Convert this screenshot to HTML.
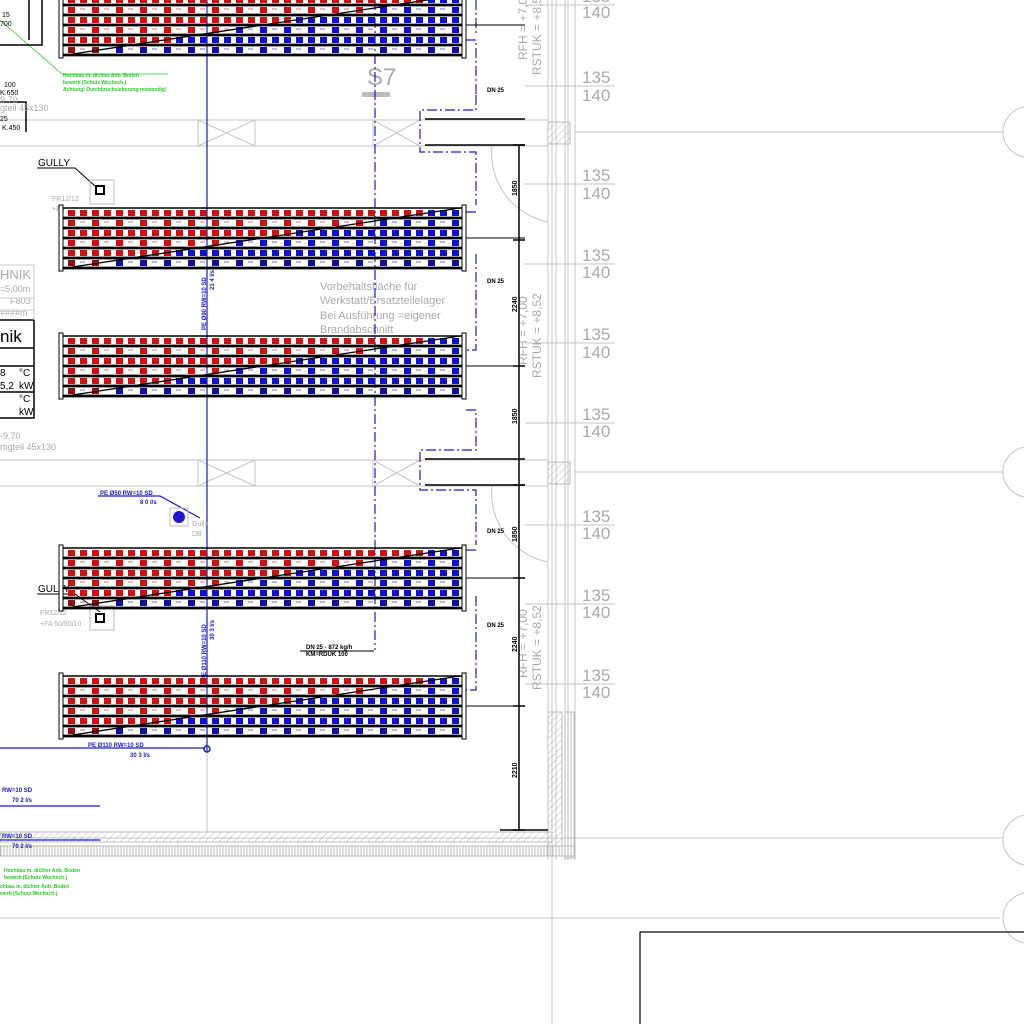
<!DOCTYPE html>
<html><head><meta charset="utf-8"><style>
html,body{margin:0;padding:0;background:#fff;}
svg{display:block;}
text{font-family:"Liberation Sans",sans-serif;}
</style></head><body>
<svg id="s" width="1024" height="1024" viewBox="0 0 1024 1024" xmlns="http://www.w3.org/2000/svg">
<defs>
<pattern id="h" width="5" height="5" patternUnits="userSpaceOnUse" patternTransform="rotate(45)">
<line x1="0" y1="0" x2="0" y2="5" stroke="#bbb" stroke-width="1"/></pattern>
<pattern id="v" width="3" height="6" patternUnits="userSpaceOnUse">
<line x1="1" y1="0" x2="1" y2="6" stroke="#bbb" stroke-width="1"/></pattern>
</defs>
<g stroke="#c4c4c4" stroke-width="1" fill="none">
<line x1="0" y1="120" x2="548" y2="120"/><line x1="0" y1="146" x2="548" y2="146"/>
<line x1="575" y1="132" x2="1003" y2="132"/>
<line x1="0" y1="460" x2="548" y2="460"/><line x1="0" y1="486" x2="548" y2="486"/>
<line x1="575" y1="472" x2="1003" y2="472"/>
<line x1="0" y1="838" x2="1003" y2="838"/>
<line x1="0" y1="918" x2="1000" y2="918"/>
<line x1="552" y1="0" x2="552" y2="1024"/>
<line x1="548" y1="0" x2="548" y2="860"/><line x1="556" y1="0" x2="556" y2="860"/>
<line x1="565" y1="0" x2="565" y2="860"/><line x1="568" y1="0" x2="568" y2="860"/>
<line x1="575" y1="0" x2="575" y2="860"/>
<line x1="207" y1="750" x2="207" y2="832"/>
<circle cx="1028" cy="132" r="25"/><circle cx="1028" cy="472" r="25"/>
<circle cx="1028" cy="840" r="25"/><circle cx="1028" cy="918" r="25"/>
<path d="M198 120L255 146M198 146L255 120M198 120V146M255 120V146"/>
<path d="M373 120L420 146M373 146L420 120M373 120V146"/>
<path d="M198 460L255 486M198 486L255 460M198 460V486M255 460V486"/>
<path d="M373 460L420 486M373 486L420 460M373 460V486"/>
<path d="M492 146 A70 70 0 0 0 548 222"/>
<path d="M492 486 A70 70 0 0 0 548 562"/>
</g>
<rect x="548" y="122" width="22" height="22" fill="url(#h)" stroke="#bbb"/>
<rect x="548" y="462" width="22" height="22" fill="url(#h)" stroke="#bbb"/>
<rect x="0" y="832" width="552" height="10" fill="url(#h)" stroke="#bbb"/>
<rect x="0" y="846" width="575" height="10" fill="url(#v)" stroke="#bbb"/>
<rect x="548" y="712" width="14" height="134" fill="url(#h)" stroke="#bbb"/>
<rect x="565" y="712" width="10" height="146" fill="url(#v)" stroke="#bbb"/>
<g id="lab" fill="#aaa" font-size="17"></g>
<g fill="#aaa" font-size="12">
<text transform="translate(541,75) rotate(-90)">RSTUK = +8,52</text>
<text transform="translate(527,60) rotate(-90)">RFH = +7,00</text>
<text transform="translate(541,378) rotate(-90)">RSTUK = +8,52</text>
<text transform="translate(527,365) rotate(-90)">RFH = +7,00</text>
<text transform="translate(541,690) rotate(-90)">RSTUK = +8,52</text>
<text transform="translate(527,678) rotate(-90)">RFH = +7,00</text>
<text x="320" y="290" font-size="11">Vorbehaltsfläche für</text>
<text x="320" y="304" font-size="11">Werkstatt/Ersatzteilelager</text>
<text x="320" y="319" font-size="11">Bei Ausführung =eigener</text>
<text x="320" y="333" font-size="11">Brandabschnitt</text>
<text x="367" y="85" font-size="24">S7</text>
</g>
<rect x="362" y="92" width="28" height="5" fill="#bbb"/>
<g stroke="#000" stroke-width="1.5" fill="none">
<path d="M425 119H525M425 145H525M425 459H525M425 485H525"/>
<path d="M519 145V830M500 830H548"/>
<path d="M513 145H525M513 240H525M513 366H525M513 485H525M513 578H525M513 706H525M513 830H525"/>
</g>
<g font-size="7" font-weight="bold" fill="#000">
<text transform="translate(517,196) rotate(-90)">1850</text>
<text transform="translate(517,312) rotate(-90)">2240</text>
<text transform="translate(517,424) rotate(-90)">1850</text>
<text transform="translate(517,542) rotate(-90)">1850</text>
<text transform="translate(517,652) rotate(-90)">2240</text>
<text transform="translate(517,778) rotate(-90)">2210</text>
<text x="487" y="92" font-size="6">DN 25</text>
<text x="487" y="283" font-size="6">DN 25</text>
<text x="487" y="533" font-size="6">DN 25</text>
<text x="487" y="627" font-size="6">DN 25</text>
<text x="306" y="649" font-size="6">DN 25 - 872 kg/h</text>
<text x="306" y="656" font-size="6">KM=RDUK 100</text>
<text x="38" y="166" font-size="10" font-weight="normal">GULLY</text>
<text x="38" y="592" font-size="10" font-weight="normal">GULLY</text>
</g>
<path d="M37 168H75L95 186M37 594H75L100 612M300 651H374" stroke="#000" fill="none"/>
<g stroke="#1a1acc" fill="none" stroke-width="1.2">
<line x1="207" y1="0" x2="207" y2="752"/>
<path d="M375 0V650" stroke-dasharray="10 3 2 3"/>
<path d="M476 0V35M466 40H476V95M476 95V110H420V152H476V205M466 212H476M476 254V350H466M466 410H476V450H420V490H476V545M466 550H476M476 596V690H466" stroke-dasharray="10 3 2 3"/>
<path d="M0 748H205M98 496H160L200 518M100 806H0M100 840H0"/>
</g>
<circle cx="179" cy="517" r="6" fill="#1a1acc"/>
<rect x="170" y="508" width="18" height="18" fill="none" stroke="#bbb"/>
<circle cx="207" cy="749" r="3" fill="none" stroke="#1a1acc" stroke-width="1.5"/>
<g fill="#1a1acc" font-size="6" font-weight="bold">
<text x="100" y="495">PE Ø50 RW=10 SD</text><text x="140" y="504">8 0 l/s</text>
<text x="88" y="747">PE Ø110 RW=10 SD</text><text x="130" y="757">30 3 l/s</text>
<text x="2" y="792">RW=10 SD</text><text x="12" y="802">70 2 l/s</text>
<text x="2" y="838">RW=10 SD</text><text x="12" y="848">70 2 l/s</text>
<text transform="translate(206,330) rotate(-90)">PE Ø90 RW=10 SD</text>
<text transform="translate(214,290) rotate(-90)">21 4 l/s</text>
<text transform="translate(206,680) rotate(-90)">PE Ø110 RW=10 SD</text>
<text transform="translate(214,640) rotate(-90)">30 3 l/s</text>
</g>
<g fill="#22cc22" font-size="5" font-weight="bold">
<text x="63" y="77">Hochbau m. dichter Anb. Boden</text>
<text x="63" y="84">bewerb (Schutz Wechsch.)</text>
<text x="63" y="91">Achtung! Durchbruchsicherung notwendig!</text>
<text x="4" y="872">Hochbau m. dichter Anb. Boden</text>
<text x="4" y="879">bewerb (Schutz Wechsch.)</text>
<text x="0" y="888">chbau m. dichter Anb. Boden</text>
<text x="0" y="895">werb (Schutz Wechsch.)</text>
</g>
<path d="M0 20L62 74H168" stroke="#22cc22" fill="none" stroke-width="0.8"/>
<g stroke="#000" fill="none" stroke-width="1.5">
<path d="M0 45H42V0M29 0V40"/>
<path d="M0 102H26V132"/>
<rect x="-2" y="320" width="36" height="98"/>
<path d="M0 348H34M0 366H34M0 392H34"/>
</g>
<g font-size="7" fill="#000">
<text x="2" y="17">15</text><text x="0" y="26">700</text>
<text x="4" y="87">100</text><text x="0" y="95">K.650</text>
<text x="0" y="121">25</text><text x="2" y="130">K.450</text>
<text x="0" y="342" font-size="17">nik</text>
<text x="0" y="376" font-size="10">8</text><text x="19" y="376" font-size="10">°C</text>
<text x="0" y="389" font-size="10">5,2</text><text x="19" y="389" font-size="10">kW</text>
<text x="19" y="402" font-size="10">°C</text><text x="19" y="415" font-size="10">kW</text>
</g>
<g font-size="9" fill="#aaa">
<text x="0" y="103">9.70</text><text x="0" y="111">gteil 45x130</text>
<text x="0" y="439">-9.70</text><text x="0" y="450">rtigteil 45x130</text>
<text x="0" y="279" font-size="13">HNIK</text><text x="0" y="292">=5,00m</text>
<text x="10" y="304">F803</text><text x="0" y="316">####m</text>
<text x="52" y="201" font-size="7">FR12/12</text><text x="52" y="211" font-size="7">+FA</text>
<text x="40" y="615" font-size="7">FR12/12</text><text x="40" y="626" font-size="7">+FA 50/50/10</text>
<text x="192" y="526" font-size="7">Gully</text><text x="192" y="536" font-size="7">DB</text>
</g>
<path d="M0 265H34V320M0 298H34M0 310H34" stroke="#ccc" fill="none"/>
<rect x="90" y="180" width="24" height="24" fill="none" stroke="#bbb"/>
<rect x="96" y="186" width="8" height="8" fill="none" stroke="#000" stroke-width="2"/>
<rect x="90" y="606" width="24" height="24" fill="none" stroke="#bbb"/>
<rect x="96" y="614" width="8" height="8" fill="none" stroke="#000" stroke-width="2"/>
<rect x="640" y="932" width="390" height="100" fill="none" stroke="#000" stroke-width="1.2"/>
<g id="banks"></g>
</svg>
<script>
var g=document.getElementById("banks"),h="";
function bank(T,H){var B=T+H,x0=66,x1=460;
for(var i=0;i<6;i++){var yc=T+(i+0.5)*H/6,dot=(i%2==1);
for(var k=0;k<33;k++){var x=x0+2+k*12;var yd=B-(x-x0)/(x1-x0)*H;var c=yc<yd?"#d01010":"#1010d0";
if(i==5) c=yc<yd?"#901010":"#1010a0";
if(dot&&k%2==1){h+='<rect x="'+x+'" y="'+(yc-1.5)+'" width="5" height="1" fill="'+c+'" opacity="0.6"/>';}
else h+='<rect x="'+x+'" y="'+(yc-3)+'" width="7" height="6" fill="'+c+'"/>';}}
for(var i=0;i<=6;i++){var y=T+i*H/6;h+='<line x1="'+(x0-4)+'" y1="'+y+'" x2="'+(x1+2)+'" y2="'+y+'" stroke="#000" stroke-width="'+(i==0?1.5:2.8)+'"/>';}
h+='<line x1="'+x0+'" y1="'+B+'" x2="'+x1+'" y2="'+T+'" stroke="#000" stroke-width="1.3"/>';
h+='<rect x="59" y="'+(T-3)+'" width="4" height="'+(H+6)+'" fill="#fff" stroke="#000"/>';
h+='<rect x="462" y="'+(T-3)+'" width="4" height="'+(H+6)+'" fill="#fff" stroke="#000"/>';
h+='<line x1="466" y1="'+(T+H/2)+'" x2="525" y2="'+(T+H/2)+'" stroke="#000"/>';}
bank(-5,60);bank(208,60);bank(336,60);bank(548,60);bank(676,60);
g.innerHTML=h;
var L=document.getElementById("lab"),s="",ys=[[2,18],[83,101],[181,199],[261,278],[340,358],[420,437],[522,539],[601,618],[681,698]];
ys.forEach(function(p){s+='<text x="582" y="'+p[0]+'">135</text><text x="582" y="'+p[1]+'">140</text><line x1="525" y1="'+(p[0]+3)+'" x2="615" y2="'+(p[0]+3)+'" stroke="#c4c4c4"/>';});
L.innerHTML=s;
</script>
</body></html>
